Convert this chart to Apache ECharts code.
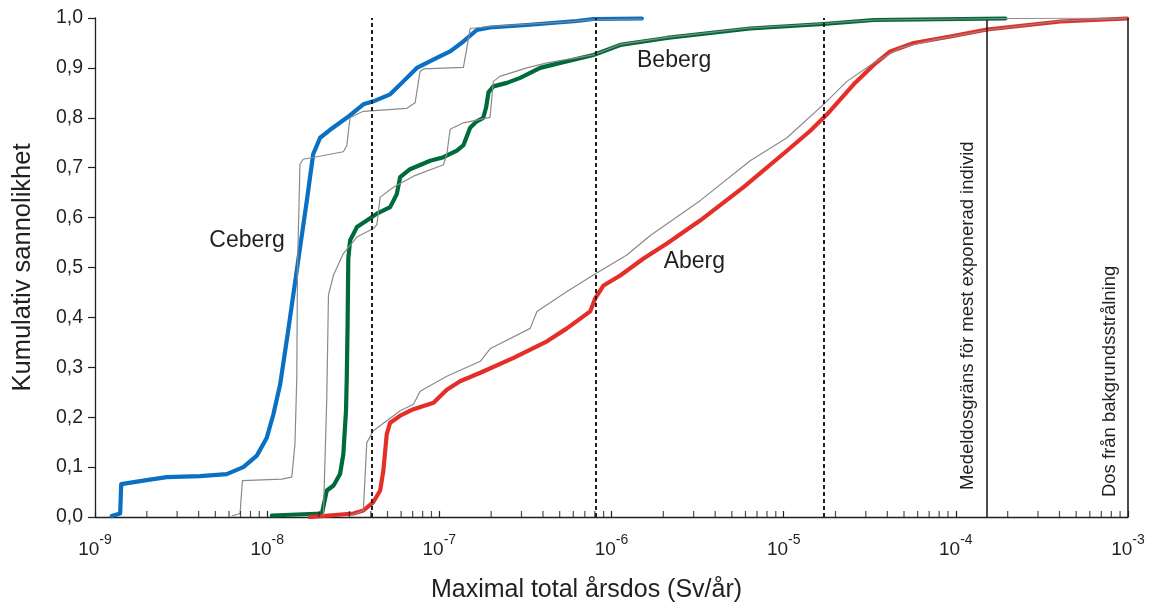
<!DOCTYPE html>
<html>
<head>
<meta charset="utf-8">
<script src="https://cdn.jsdelivr.net/npm/echarts@6/dist/echarts.min.js"></script>
<style>
  html, body { margin: 0; padding: 0; background: #ffffff; }
  #chart { width: 1154px; height: 608px; }
</style>
</head>
<body>
<div id="chart"></div>
<script>
// ---- Data (dose in Sv/år, cumulative probability) ----
const cebergX = [1.25e-9, 1.40e-9, 1.42e-9, 1.83e-9, 2.61e-9, 4.07e-9, 5.82e-9, 7.27e-9, 8.71e-9, 9.95e-9, 1.087e-8, 1.19e-8, 1.32e-8, 1.52e-8, 1.70e-8, 1.85e-8, 2.03e-8, 2.32e-8, 2.90e-8, 3.62e-8, 4.14e-8, 5.18e-8, 6.18e-8, 7.40e-8, 9.66e-8, 1.156e-7, 1.38e-7, 1.65e-7, 1.97e-7, 3.22e-7, 6.29e-7, 7.85e-7, 1.50e-6];
const cebergY = [0.002, 0.007, 0.066, 0.072, 0.080, 0.082, 0.086, 0.100, 0.123, 0.159, 0.206, 0.266, 0.370, 0.518, 0.634, 0.727, 0.760, 0.776, 0.800, 0.827, 0.833, 0.847, 0.873, 0.900, 0.920, 0.933, 0.953, 0.976, 0.981, 0.986, 0.994, 0.998, 0.999];

const cebergRefX = [6.23e-9, 6.96e-9, 7.18e-9, 1.216e-8, 1.39e-8, 1.45e-8, 1.486e-8, 1.50e-8, 1.55e-8, 1.62e-8, 1.94e-8, 2.77e-8, 2.90e-8, 3.03e-8, 3.32e-8, 3.62e-8, 6.47e-8, 7.23e-8, 7.73e-8, 8.09e-8, 1.38e-7, 1.445e-7, 1.51e-7, 1.97e-7, 2.70e-7, 6.01e-7, 7.19e-7, 1.50e-6];
const cebergRefY = [0.002, 0.007, 0.073, 0.076, 0.080, 0.146, 0.279, 0.495, 0.707, 0.717, 0.722, 0.732, 0.744, 0.800, 0.807, 0.813, 0.819, 0.830, 0.893, 0.898, 0.901, 0.940, 0.979, 0.983, 0.986, 0.993, 0.996, 0.998];

const bebergX = [1.064e-8, 2.08e-8, 2.22e-8, 2.43e-8, 2.65e-8, 2.77e-8, 2.87e-8, 2.90e-8, 2.93e-8, 2.96e-8, 3.03e-8, 3.32e-8, 3.79e-8, 4.34e-8, 5.18e-8, 5.66e-8, 5.92e-8, 6.76e-8, 8.85e-8, 1.057e-7, 1.264e-7, 1.38e-7, 1.51e-7, 1.65e-7, 1.80e-7, 1.87e-7, 1.93e-7, 2.06e-7, 2.47e-7, 2.95e-7, 3.85e-7, 5.04e-7, 7.85e-7, 9.40e-7, 1.124e-6, 2.10e-6, 6.39e-6, 1.706e-5, 3.33e-5, 1.94e-4];
const bebergY = [0.003, 0.007, 0.053, 0.063, 0.086, 0.126, 0.213, 0.279, 0.378, 0.518, 0.554, 0.581, 0.594, 0.608, 0.621, 0.647, 0.681, 0.697, 0.714, 0.721, 0.734, 0.745, 0.780, 0.793, 0.800, 0.821, 0.851, 0.863, 0.870, 0.880, 0.900, 0.910, 0.926, 0.936, 0.946, 0.960, 0.979, 0.988, 0.996, 0.999];

const bebergRefX = [2.12e-8, 2.22e-8, 2.27e-8, 2.43e-8, 2.77e-8, 3.32e-8, 4.14e-8, 4.34e-8, 4.53e-8, 5.41e-8, 7.08e-8, 1.057e-7, 1.105e-7, 1.156e-7, 1.38e-7, 1.97e-7, 2.06e-7, 2.25e-7, 3.22e-7, 4.22e-7, 7.85e-7, 1.124e-6, 2.10e-6, 6.39e-6, 1.706e-5, 3.33e-5, 1.94e-4, 1.0e-3];
const bebergRefY = [0.002, 0.239, 0.445, 0.485, 0.528, 0.561, 0.578, 0.586, 0.641, 0.661, 0.683, 0.706, 0.727, 0.777, 0.790, 0.801, 0.873, 0.883, 0.900, 0.910, 0.926, 0.947, 0.961, 0.980, 0.989, 0.996, 0.999, 1.0];

const abergX = [1.77e-8, 3.17e-8, 3.62e-8, 4.14e-8, 4.53e-8, 4.73e-8, 4.95e-8, 5.18e-8, 5.92e-8, 7.08e-8, 9.25e-8, 1.105e-7, 1.32e-7, 1.73e-7, 2.70e-7, 4.22e-7, 5.51e-7, 7.52e-7, 8.04e-7, 8.99e-7, 1.124e-6, 1.535e-6, 2.10e-6, 3.27e-6, 5.85e-6, 1.045e-5, 1.428e-5, 1.786e-5, 2.55e-5, 3.33e-5, 4.16e-5, 5.69e-5, 9.29e-5, 1.517e-4, 4.05e-4, 9.89e-4];
const abergY = [0.0, 0.007, 0.013, 0.030, 0.053, 0.093, 0.166, 0.189, 0.203, 0.216, 0.229, 0.255, 0.272, 0.289, 0.319, 0.352, 0.378, 0.412, 0.438, 0.464, 0.484, 0.518, 0.548, 0.594, 0.661, 0.734, 0.774, 0.807, 0.867, 0.906, 0.933, 0.950, 0.963, 0.977, 0.993, 0.999];

const abergRefX = [3.03e-8, 3.62e-8, 3.79e-8, 4.14e-8, 4.95e-8, 5.92e-8, 7.08e-8, 7.73e-8, 1.105e-7, 1.73e-7, 1.97e-7, 3.37e-7, 3.69e-7, 5.51e-7, 7.85e-7, 1.228e-6, 1.68e-6, 3.27e-6, 6.39e-6, 1.045e-5, 1.706e-5, 2.33e-5, 3.33e-5, 4.76e-5, 7.43e-5, 1.517e-4, 4.05e-4, 9.89e-4];
const abergRefY = [0.002, 0.013, 0.149, 0.173, 0.193, 0.213, 0.226, 0.252, 0.282, 0.312, 0.337, 0.378, 0.412, 0.452, 0.485, 0.525, 0.564, 0.634, 0.714, 0.760, 0.827, 0.873, 0.910, 0.940, 0.956, 0.976, 0.994, 0.999];

// reference lines (Sv/år)
const dottedLines = [4.06e-8, 8.15e-7, 1.71e-5];
const limitLines = [1.51e-4, 1.0e-3];
const limitTops = [0.996, 1.0];
const limitLabels = ['Medeldosgräns för mest exponerad individ', 'Dos från bakgrundsstrålning'];
const limitLabelStart = [0.054, 0.040];

// curve name labels [dose, probability, text]
const curveLabels = [[7.64e-9, 0.554, 'Ceberg'], [2.31e-6, 0.914, 'Beberg'], [3.03e-6, 0.512, 'Aberg']];

const xDecades = [-9, -8, -7, -6, -5, -4, -3];

const TXT = '#231f20';
const FONT = '"Liberation Sans", Arial, sans-serif';

function pairs(xs, ys) { return xs.map((x, i) => [x, ys[i]]); }

// minor ticks at 2..9 × 10^n
const minorTicks = [];
for (let i = 0; i < xDecades.length - 1; i++) {
  for (let k = 2; k <= 9; k++) minorTicks.push([k * Math.pow(10, xDecades[i]), 0]);
}

const chart = echarts.init(document.getElementById('chart'), null, { renderer: 'canvas' });

function mainLine(name, data, color) {
  return { name, type: 'line', data, showSymbol: false, symbol: 'none', z: 3,
    lineStyle: { color, width: 4.2, cap: 'round', join: 'round' }, silent: true, animation: false };
}
function refLine(name, data) {
  return { name, type: 'line', data, showSymbol: false, symbol: 'none', z: 4,
    lineStyle: { color: '#8a8a8a', width: 1.2 }, silent: true, animation: false };
}

const option = {
  animation: false,
  backgroundColor: '#ffffff',
  textStyle: { fontFamily: FONT, color: TXT },
  grid: { left: 95, right: 26, top: 18, bottom: 88, containLabel: false },
  xAxis: {
    type: 'log', logBase: 10, min: 1e-9, max: 1e-3, splitNumber: 6,
    name: 'Maximal total årsdos (Sv/år)', nameLocation: 'middle', nameGap: 61,
    nameTextStyle: { fontSize: 25, color: TXT, fontFamily: FONT, padding: [0, 50, 0, 0] },
    axisLine: { lineStyle: { color: TXT, width: 1.3 } },
    axisTick: { inside: true, length: 6, lineStyle: { color: TXT, width: 1.2 } },
    splitLine: { show: false },
    axisLabel: {
      margin: 16, color: TXT,
      formatter: v => '{b|10}{s|' + Math.round(Math.log10(v)) + '}',
      rich: {
        b: { fontSize: 19, fontFamily: FONT, color: TXT, lineHeight: 26, verticalAlign: 'bottom' },
        s: { fontSize: 14, fontFamily: FONT, color: TXT, lineHeight: 14, verticalAlign: 'top' }
      }
    }
  },
  yAxis: {
    type: 'value', min: 0, max: 1, interval: 0.1,
    name: 'Kumulativ sannolikhet', nameLocation: 'middle', nameGap: 59, nameRotate: 90,
    nameTextStyle: { fontSize: 25.5, color: TXT, fontFamily: FONT },
    axisLine: { show: true, lineStyle: { color: TXT, width: 1.3 } },
    axisTick: { show: true, inside: false, length: 7, lineStyle: { color: TXT, width: 1.2 } },
    splitLine: { show: false },
    axisLabel: { margin: 12, fontSize: 19.5, color: TXT, fontFamily: FONT,
      formatter: v => v.toFixed(1).replace('.', ',') }
  },
  series: [
    mainLine('Ceberg', pairs(cebergX, cebergY), '#0a70c4'),
    mainLine('Beberg', pairs(bebergX, bebergY), '#006b3a'),
    mainLine('Aberg', pairs(abergX, abergY), '#e52e28'),
    refLine('Ceberg ref', pairs(cebergRefX, cebergRefY)),
    refLine('Beberg ref', pairs(bebergRefX, bebergRefY)),
    refLine('Aberg ref', pairs(abergRefX, abergRefY)),
    {
      name: 'minorTicks', type: 'scatter', data: minorTicks, symbol: 'rect',
      symbolSize: [1.2, 6], symbolOffset: [0, -3], itemStyle: { color: TXT }, z: 5, silent: true
    },
    {
      name: 'refs', type: 'line', data: [], silent: true, z: 6,
      markLine: {
        symbol: 'none', silent: true, animation: false,
        data: dottedLines.map(x => [
          { coord: [x, 0], lineStyle: { type: [4, 3], color: TXT, width: 2 } },
          { coord: [x, 1] }
        ]).concat(limitLines.map((x, i) => [
          { coord: [x, 0], lineStyle: { type: 'solid', color: TXT, width: 1.6 } },
          { coord: [x, limitTops[i]] }
        ])),
        label: { show: false }
      }
    }
  ]
};
chart.setOption(option);

// text labels placed through the grid's coordinate system
const graphics = limitLines.map((x, i) => {
  const p = chart.convertToPixel({ gridIndex: 0 }, [x, limitLabelStart[i]]);
  return {
    type: 'text', x: p[0] - 9, y: p[1], rotation: Math.PI / 2, silent: true, z: 10,
    style: { text: limitLabels[i], fontSize: 18.5, fontFamily: FONT, fill: TXT,
      align: 'left', verticalAlign: 'bottom' }
  };
}).concat(curveLabels.map(c => {
  const p = chart.convertToPixel({ gridIndex: 0 }, [c[0], c[1]]);
  return {
    type: 'text', x: p[0], y: p[1], silent: true, z: 10,
    style: { text: c[2], fontSize: 23, fontFamily: FONT, fill: TXT, align: 'center', verticalAlign: 'middle' }
  };
}));
chart.setOption({ graphic: graphics });
</script>
</body>
</html>
